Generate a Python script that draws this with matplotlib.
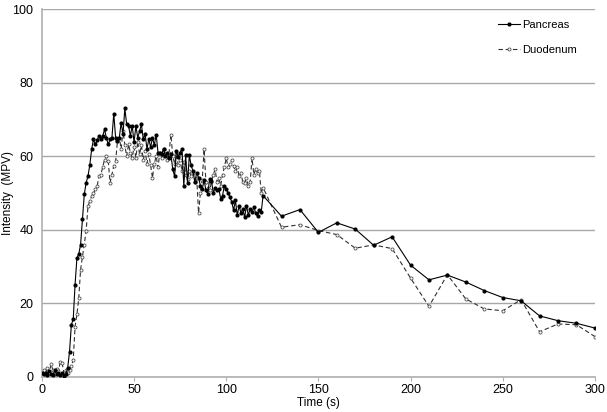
import matplotlib
matplotlib.use('Agg')
import matplotlib.pyplot as plt
import numpy as np

plt.rcParams['font.family'] = ['Liberation Sans', 'DejaVu Sans']

# tiempos: cada segundo hasta 120 s, luego cada 10 s
t_denso = list(range(0, 121))
t_largo = list(range(130, 301, 10))
tiempo = t_denso + t_largo

pancreas_denso = [
    1.0, 0.8, 1.2, 0.6, 1.5, 0.9, 0.5, 1.8, 0.7, 1.2, 0.6, 1.0, 0.4, 0.8,
    2.5, 6.9, 14.2, 15.7, 25.1, 32.3, 33.4, 36.0, 43.0, 49.6, 52.8, 54.6, 57.6, 61.9,
    64.6, 63.2, 64.3, 65.5, 64.6, 65.5, 67.3, 65.0, 63.2, 64.6, 65.0, 71.6,
    65.0, 64.2, 65.0, 69.1, 66.0, 73.0, 68.7, 68.3, 65.5, 68.3,
    63.8, 68.3, 65.0, 66.9, 68.7, 64.6, 66.0, 62.0, 64.6, 62.5,
    65.0, 63.0, 65.9, 61.0, 60.8, 60.5, 62.0, 60.0, 61.0, 59.5,
    60.5, 56.4, 54.6, 61.4, 59.8, 61.0, 62.0, 51.9, 60.2, 52.8,
    60.2, 57.5, 55.9, 53.0, 55.5, 54.2, 52.0, 51.1, 53.5, 50.7,
    49.8, 53.8, 53.3, 50.0, 51.5, 50.7, 51.1, 48.5, 49.3, 52.0,
    51.1, 50.0, 48.9, 47.6, 45.3, 48.0, 43.9, 46.6, 44.5, 45.7,
    43.4, 46.6, 44.0, 45.7, 44.8, 46.2, 44.5, 43.7, 45.5, 44.8,
    49.3]
pancreas_largo = [43.7, 45.5, 39.3, 41.9, 40.2, 35.8, 38.1, 30.4, 26.4, 27.7,
                  25.8, 23.5, 21.6, 20.7, 16.6, 15.3, 14.6, 13.3]

duodeno_denso = [
    1.5, 2.0, 1.0, 2.5, 1.2, 3.5, 1.8, 0.8, 2.2, 1.5, 4.2, 3.7, 1.0, 2.0, 1.2, 1.8, 3.0,
    4.6, 13.7, 17.0, 21.4, 29.2, 32.6, 36.0, 39.6, 46.4, 47.9, 49.1, 50.0, 51.0,
    51.9, 54.6, 55.0, 57.0, 59.1, 60.0, 58.6, 52.8, 55.0, 57.3,
    58.6, 64.1, 65.0, 62.0, 66.9, 63.0, 60.0, 63.2, 61.0, 59.6,
    62.5, 59.6, 64.0, 60.5, 63.0, 59.0, 61.5, 58.0, 60.5, 57.5,
    54.1, 58.0, 60.0, 57.0, 61.0, 59.5, 62.0, 60.5, 59.0, 61.0,
    65.9, 60.0, 58.0, 60.5, 57.5, 59.0, 56.0, 58.5, 55.0, 53.8,
    56.0, 54.5, 55.5, 53.0, 54.0, 44.6, 50.0, 53.5, 61.9, 53.0,
    51.5, 50.7, 53.0, 55.0, 56.4, 53.0, 54.0, 52.0, 55.0, 57.0,
    59.5, 57.0, 58.0, 59.0, 57.3, 56.0, 57.0, 54.5, 55.5, 53.0,
    52.8, 54.0, 51.9, 53.0, 59.5, 55.0, 56.5, 55.4, 56.0, 50.0,
    51.5]
duodeno_largo = [40.7, 41.4, 39.8, 38.7, 35.0, 35.9, 34.9, 26.9, 19.2, 27.8,
                 21.2, 18.5, 18.0, 21.0, 12.3, 14.4, 14.2, 11.0]

pancreas = pancreas_denso + pancreas_largo
duodeno = duodeno_denso + duodeno_largo

fig = plt.figure(figsize=(6.07, 4.12), dpi=100)
ax = fig.add_axes([0.069, 0.085, 0.911, 0.893])

ax.plot(tiempo, pancreas, color='black', linewidth=0.8, marker='o',
        markersize=2.0, markerfacecolor='black', markeredgecolor='black',
        label='Pancreas', zorder=3)
ax.plot(tiempo, duodeno, color='#303030', linewidth=0.8, linestyle=(0, (4, 2.5)),
        marker='o', markersize=2.2, markerfacecolor='white',
        markeredgecolor='#505050', markeredgewidth=0.6,
        label='Duodenum', zorder=2)

ax.set_xlim(0, 300)
ax.set_ylim(0, 100)
ax.set_xticks(range(0, 301, 50))
ax.set_yticks(range(0, 101, 20))
ax.yaxis.grid(True, color='#a8a8a8', linewidth=1.0)
ax.set_axisbelow(True)

for lado in ['top', 'right']:
    ax.spines[lado].set_visible(False)
for lado in ['left', 'bottom']:
    ax.spines[lado].set_color('#b0b0b0')
    ax.spines[lado].set_linewidth(1.2)

ax.tick_params(axis='y', length=0, labelsize=9, pad=6)
ax.tick_params(axis='x', length=3, color='#b0b0b0', labelsize=9, pad=2)

ax.set_xlabel('Time (s)', fontsize=8.5, labelpad=1)
ax.set_ylabel('Intensity  (MPV)', fontsize=8.5)
ax.yaxis.set_label_coords(-0.05, 0.5)

ax.legend(loc='center left', bbox_to_anchor=(0.806, 0.923), frameon=False,
          fontsize=8, handlelength=2.0, labelspacing=1.35, handletextpad=0.2)

plt.savefig('out.png', dpi=100)
